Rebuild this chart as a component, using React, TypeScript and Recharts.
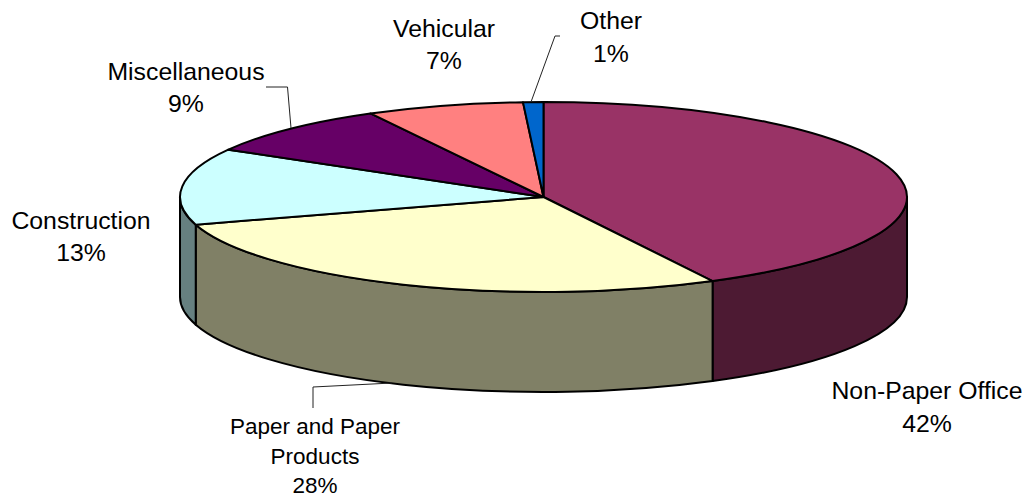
import React from "react";
import { PieChart, Pie, Cell } from "recharts";

const CATEGORIES = ["Non-Paper Office", "Paper and Paper Products", "Construction", "Miscellaneous", "Vehicular", "Other"];
const SHARES = [42.3, 28.0, 13.0, 8.8, 7.0, 0.9];
const TOP_COLORS = ["#993366", "#FFFFCC", "#CCFFFF", "#660066", "#FF8080", "#0066CC"];
const SIDE_COLORS = ["#4D1A33", "#808066", "#668080", "#330033", "#804040", "#003366"];

const data = CATEGORIES.map((name, i) => ({ name, value: SHARES[i] }));

const W = 1025;
const H = 497;
const CX = 543.5;
const CY = 197;
const RX = 363.5;
const RY = 95;
const DEPTH = 100;
const FONT = "'Liberation Sans', Arial, sans-serif";

type LabelLayout = { x: number; baselines: number[]; size: number; lines: string[]; leader?: string };
const LABEL_LAYOUT: LabelLayout[] = [
  { x: 927, baselines: [399, 432], size: 24.8, lines: ["Non-Paper Office"] },
  { x: 315, baselines: [434, 464, 493], size: 22.5, lines: ["Paper and Paper", "Products"], leader: "313,408 313,387 392,383" },
  { x: 81, baselines: [228.5, 261], size: 24.8, lines: ["Construction"] },
  { x: 186, baselines: [79.5, 112], size: 24.8, lines: ["Miscellaneous"], leader: "266,87 287.5,87 291,128" },
  { x: 444, baselines: [37, 69], size: 24.8, lines: ["Vehicular"] },
  { x: 611, baselines: [29, 62], size: 24.8, lines: ["Other"], leader: "531,102 555,36 560,36" },
];

const px = (cx: number, deg: number) => cx + RX * Math.cos((deg * Math.PI) / 180);
const py = (cy: number, deg: number) => cy - RY * Math.sin((deg * Math.PI) / 180);

function TopSlice(props: any) {
  const { cx, cy, startAngle, endAngle, fill } = props;
  const large = startAngle - endAngle > 180 ? 1 : 0;
  const d = `M${cx},${cy} L${px(cx, startAngle)},${py(cy, startAngle)} A${RX},${RY} 0 ${large} 1 ${px(cx, endAngle)},${py(cy, endAngle)} Z`;
  return <path d={d} fill={fill} stroke="#000" strokeWidth={2} strokeLinejoin="round" />;
}

function SideSlice(props: any) {
  const { cx, cy, startAngle, endAngle, fill } = props;
  const a = Math.min(startAngle, 0);
  const b = Math.max(endAngle, -180);
  if (a <= b) return <g />;
  const d =
    `M${px(cx, a)},${py(cy, a)} A${RX},${RY} 0 0 1 ${px(cx, b)},${py(cy, b)} ` +
    `L${px(cx, b)},${py(cy, b) + DEPTH} A${RX},${RY} 0 0 0 ${px(cx, a)},${py(cy, a) + DEPTH} Z`;
  return <path d={d} fill={fill} stroke="#000" strokeWidth={2} strokeLinejoin="round" />;
}

function SliceLabel(props: any) {
  const { index, percent } = props;
  const l = LABEL_LAYOUT[index];
  const rows = [...l.lines, `${Math.round(percent * 100)}%`];
  return (
    <g>
      {l.leader && <polyline points={l.leader} fill="none" stroke="#222" strokeWidth={1} />}
      {rows.map((t, i) => (
        <text key={i} x={l.x} y={l.baselines[i]} textAnchor="middle" fontFamily={FONT} fontSize={l.size} fill="#000">
          {t}
        </text>
      ))}
    </g>
  );
}

export default function App() {
  return (
    <div style={{ position: "absolute", left: 0, top: 0, width: W, height: H }}>
      <PieChart width={W} height={H} margin={{ top: 0, right: 0, bottom: 0, left: 0 }}>
        <Pie
          data={data}
          dataKey="value"
          nameKey="name"
          cx={CX}
          cy={CY}
          outerRadius={RX}
          startAngle={90}
          endAngle={-270}
          isAnimationActive={false}
          shape={SideSlice}
          label={false}
          labelLine={false}
        >
          {SIDE_COLORS.map((c, i) => (
            <Cell key={i} fill={c} />
          ))}
        </Pie>
        <Pie
          data={data}
          dataKey="value"
          nameKey="name"
          cx={CX}
          cy={CY}
          outerRadius={RX}
          startAngle={90}
          endAngle={-270}
          isAnimationActive={false}
          shape={TopSlice}
          label={SliceLabel}
          labelLine={false}
        >
          {TOP_COLORS.map((c, i) => (
            <Cell key={i} fill={c} />
          ))}
        </Pie>
      </PieChart>
    </div>
  );
}
